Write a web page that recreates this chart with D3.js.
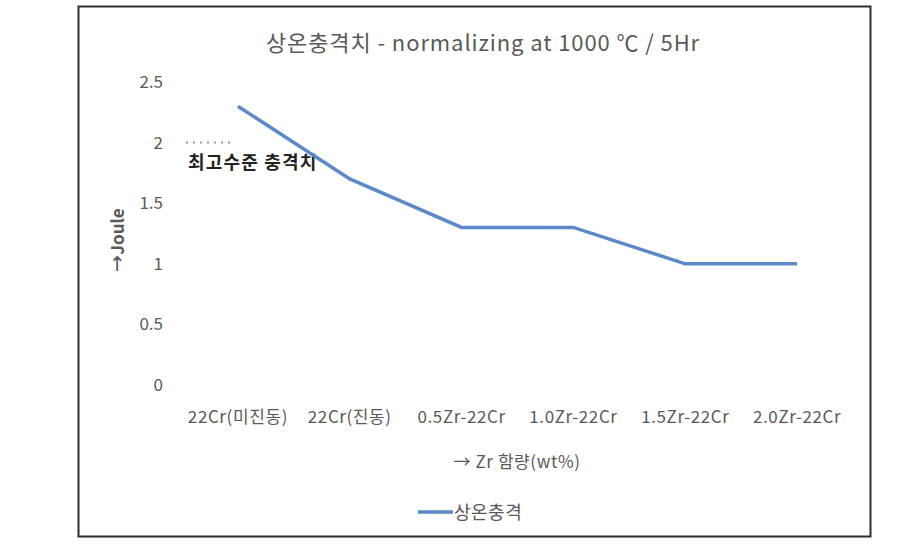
<!DOCTYPE html>
<html>
 <head>
    <meta charset="utf-8">
    <script src="https://d3js.org/d3.v7.min.js"></script>
    <style>
      body { margin: 0; background: #fff; }
      text { font-family: "Noto Sans CJK KR", "Open Sans", sans-serif; fill: #595959; }
    </style>
 </head>
 <body>
    <div id="chart"></div>
    <script>
      // data
      var categories = ["22Cr(미진동)", "22Cr(진동)", "0.5Zr-22Cr", "1.0Zr-22Cr", "1.5Zr-22Cr", "2.0Zr-22Cr"];
      var values = [2.3, 1.7, 1.3, 1.3, 1.0, 1.0];
      var yTicks = [0, 0.5, 1, 1.5, 2, 2.5];
      var refValue = 2;
      var refLabel = "최고수준 충격치";
      var seriesName = "상온충격";

      var width = 918, height = 550;
      var svg = d3.select("#chart").append("svg")
        .attr("width", width)
        .attr("height", height);

      // frame
      svg.append("rect")
        .attr("x", 78.5).attr("y", 6.5)
        .attr("width", 792).attr("height", 530)
        .attr("fill", "none")
        .attr("stroke", "#2b2f2f")
        .attr("stroke-width", 2);

      var x = d3.scaleBand()
        .domain(categories)
        .range([182, 853]);

      var y = d3.scaleLinear()
        .domain([0, 2.5])
        .range([385, 82]);

      // title
      svg.append("text")
        .attr("x", 483).attr("y", 51)
        .attr("text-anchor", "middle")
        .style("font-size", "22px")
        .style("letter-spacing", "0.9px")
        .text("상온충격치 - normalizing at 1000 ℃ / 5Hr");

      // y axis labels
      var yAxis = svg.append("g")
        .attr("transform", "translate(169,0)")
        .call(d3.axisLeft(y).tickValues(yTicks).tickSize(0).tickPadding(6)
          .tickFormat(function (d) { return d; }));
      yAxis.select(".domain").remove();
      yAxis.selectAll("text").style("font-size", "17px").attr("fill", "#595959");

      // x axis labels
      var xAxis = svg.append("g")
        .attr("transform", "translate(0,411)")
        .call(d3.axisBottom(x).tickSize(0).tickPadding(0));
      xAxis.select(".domain").remove();
      xAxis.selectAll("text")
        .style("font-size", "17px")
        .style("letter-spacing", "0.6px")
        .attr("fill", "#595959");

      // axis titles
      svg.append("text")
        .attr("transform", "translate(124,240) rotate(-90)")
        .attr("text-anchor", "middle")
        .style("font-size", "17px")
        .style("font-weight", "bold")
        .text("→Joule");

      svg.append("text")
        .attr("x", 517).attr("y", 468)
        .attr("text-anchor", "middle")
        .style("font-size", "17px")
        .style("letter-spacing", "0.6px")
        .text("→ Zr 함량(wt%)");

      // reference mark
      svg.append("line")
        .attr("x1", 186).attr("x2", 231)
        .attr("y1", y(refValue)).attr("y2", y(refValue))
        .attr("stroke", "#9a9a9a")
        .attr("stroke-width", 2)
        .attr("stroke-dasharray", "2,5");

      svg.append("text")
        .attr("x", 188).attr("y", y(refValue) + 26)
        .style("font-size", "18px")
        .style("font-weight", "bold")
        .style("letter-spacing", "1.2px")
        .style("fill", "#222")
        .text(refLabel);

      // series line
      var line = d3.line()
        .x(function (d, i) { return x(categories[i]) + x.bandwidth() / 2; })
        .y(function (d) { return y(d); });

      svg.append("path")
        .datum(values)
        .attr("d", line)
        .attr("fill", "none")
        .attr("stroke", "#5b89c9")
        .attr("stroke-width", 3.5);

      // legend
      svg.append("line")
        .attr("x1", 418).attr("x2", 453)
        .attr("y1", 512).attr("y2", 512)
        .attr("stroke", "#5b89c9")
        .attr("stroke-width", 3.5);
      svg.append("text")
        .attr("x", 454).attr("y", 519)
        .style("font-size", "18px")
        .style("letter-spacing", "0.5px")
        .text(seriesName);
    </script>
 </body>
</html>
